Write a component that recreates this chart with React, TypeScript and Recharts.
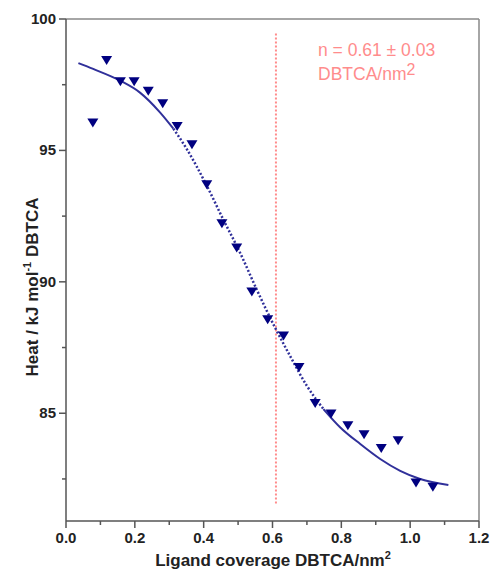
import {
  ComposedChart,
  Line,
  Scatter,
  XAxis,
  YAxis,
  ReferenceLine,
} from "recharts";

// measured points (ligand coverage, heat)
const coverage = [
  0.078, 0.118, 0.158, 0.198, 0.239, 0.281, 0.323, 0.366, 0.409, 0.453, 0.496,
  0.54, 0.586, 0.632, 0.677, 0.724, 0.77, 0.819, 0.866, 0.916, 0.965, 1.017,
  1.066,
];
const heat = [
  96.04, 98.42, 97.61, 97.61, 97.25, 96.78, 95.91, 95.22, 93.69, 92.21, 91.29,
  89.61, 88.56, 87.94, 86.74, 85.37, 84.97, 84.52, 84.18, 83.66, 83.95, 82.35,
  82.18,
];

// fitted curve
const fitX = [
  0.036, 0.079, 0.158, 0.215, 0.273, 0.312, 0.351, 0.407, 0.457, 0.506, 0.554,
  0.605, 0.651, 0.7, 0.748, 0.797, 0.855, 0.913, 0.971, 1.029, 1.111,
];
const fitY = [
  98.32, 98.1, 97.65, 97.2, 96.45, 95.83, 95.05, 93.71, 92.37, 91.1, 89.71,
  88.32, 87.18, 86.04, 85.16, 84.46, 83.83, 83.26, 82.81, 82.5, 82.27,
];

const xTicks = [0, 0.1, 0.2, 0.3, 0.4, 0.5, 0.6, 0.7, 0.8, 0.9, 1.0, 1.1, 1.2];
const yTicks = [82.5, 85, 87.5, 90, 92.5, 95, 97.5, 100];

const fitValue = 0.61;

const points = coverage.map((x, i) => ({ x, y: heat[i] }));
const fit = fitX.map((x, i) => ({ x, y: fitY[i] }));
const fitStart = fit.filter((p) => p.x <= 0.312);
const fitMid = fit.filter((p) => p.x >= 0.312 && p.x <= 0.748);
const fitEnd = fit.filter((p) => p.x >= 0.748);

const FONT = "'Liberation Sans', Arial, sans-serif";
const AXIS = "#555";
const NAVY = "#000080";
const FIT = "#30309a";
const PINK = "#ff8c8c";

function Triangle(props: any) {
  const { cx, cy } = props;
  if (cx == null || cy == null) return null;
  return (
    <path
      d={`M${cx - 5.5},${cy - 4.5} L${cx + 5.5},${cy - 4.5} L${cx},${cy + 4.5} Z`}
      fill={NAVY}
    />
  );
}

function XTick({ x, y, payload }: any) {
  const v = payload.value as number;
  const major = Math.round(v * 10) % 2 === 0;
  return (
    <g>
      <line x1={x} y1={y} x2={x} y2={y + (major ? 7 : 4)} stroke={AXIS} strokeWidth={1.5} />
      {major && (
        <text
          x={x}
          y={y + 22}
          textAnchor="middle"
          fontFamily={FONT}
          fontWeight="bold"
          fontSize={15}
          fill="#222"
        >
          {v.toFixed(1)}
        </text>
      )}
    </g>
  );
}

function YTick({ x, y, payload }: any) {
  const v = payload.value as number;
  const major = v % 5 === 0;
  return (
    <g>
      <line x1={x} y1={y} x2={x - (major ? 7 : 4)} y2={y} stroke={AXIS} strokeWidth={1.5} />
      {major && (
        <text
          x={x - 10}
          y={y + 5}
          textAnchor="end"
          fontFamily={FONT}
          fontWeight="bold"
          fontSize={15}
          fill="#222"
        >
          {v}
        </text>
      )}
    </g>
  );
}

export default function App() {
  return (
    <div style={{ position: "absolute", left: 0, top: 0, width: 493, height: 571, background: "#fff" }}>
      <ComposedChart
        width={493}
        height={571}
        margin={{ top: 19, right: 14, left: 0, bottom: 20 }}
      >
        <XAxis
          type="number"
          dataKey="x"
          domain={[0, 1.2]}
          ticks={xTicks}
          interval={0}
          height={30}
          tickSize={0}
          tickMargin={0}
          tickLine={false}
          tick={<XTick />}
          axisLine={{ stroke: AXIS, strokeWidth: 1.5 }}
          allowDataOverflow
        />
        <YAxis
          type="number"
          dataKey="y"
          domain={[80.9, 100]}
          ticks={yTicks}
          interval={0}
          width={66}
          tickSize={0}
          tickMargin={0}
          tickLine={false}
          tick={<YTick />}
          axisLine={{ stroke: AXIS, strokeWidth: 1.5 }}
          allowDataOverflow
        />
        <ReferenceLine y={100} stroke="#888" strokeWidth={1.5} />
        <ReferenceLine x={1.2} stroke="#888" strokeWidth={1.5} />
        <ReferenceLine
          segment={[
            { x: fitValue, y: 99.45 },
            { x: fitValue, y: 81.55 },
          ]}
          stroke={PINK}
          strokeWidth={2}
          strokeDasharray="2 2"
        />
        <Line
          data={fitStart}
          dataKey="y"
          type="monotone"
          stroke={FIT}
          strokeWidth={2}
          dot={false}
          isAnimationActive={false}
        />
        <Line
          data={fitMid}
          dataKey="y"
          type="monotone"
          stroke={FIT}
          strokeWidth={2.5}
          strokeDasharray="2 2"
          dot={false}
          isAnimationActive={false}
        />
        <Line
          data={fitEnd}
          dataKey="y"
          type="monotone"
          stroke={FIT}
          strokeWidth={2}
          dot={false}
          isAnimationActive={false}
        />
        <Scatter data={points} dataKey="y" shape={<Triangle />} isAnimationActive={false} />
      </ComposedChart>
      <svg
        width={493}
        height={571}
        style={{ position: "absolute", left: 0, top: 0, pointerEvents: "none" }}
      >
        <text x={318} y={56} fontFamily={FONT} fontSize={17.5} fill={PINK}>
          n = 0.61 ± 0.03
        </text>
        <text x={318} y={80} fontFamily={FONT} fontSize={17.5} fill={PINK}>
          DBTCA/nm<tspan dy={-5} fontSize={16}>2</tspan>
        </text>
        <text
          x={273}
          y={566}
          textAnchor="middle"
          fontFamily={FONT}
          fontWeight="bold"
          fontSize={17}
          fill="#222"
        >
          Ligand coverage DBTCA/nm<tspan dy={-7} fontSize={11}>2</tspan>
        </text>
        <text
          transform="translate(38,287) rotate(-90)"
          textAnchor="middle"
          fontFamily={FONT}
          fontWeight="bold"
          fontSize={17}
          fill="#222"
        >
          Heat / kJ mol<tspan dy={-7} fontSize={11}>-1</tspan>
          <tspan dy={7}> DBTCA</tspan>
        </text>
      </svg>
    </div>
  );
}
